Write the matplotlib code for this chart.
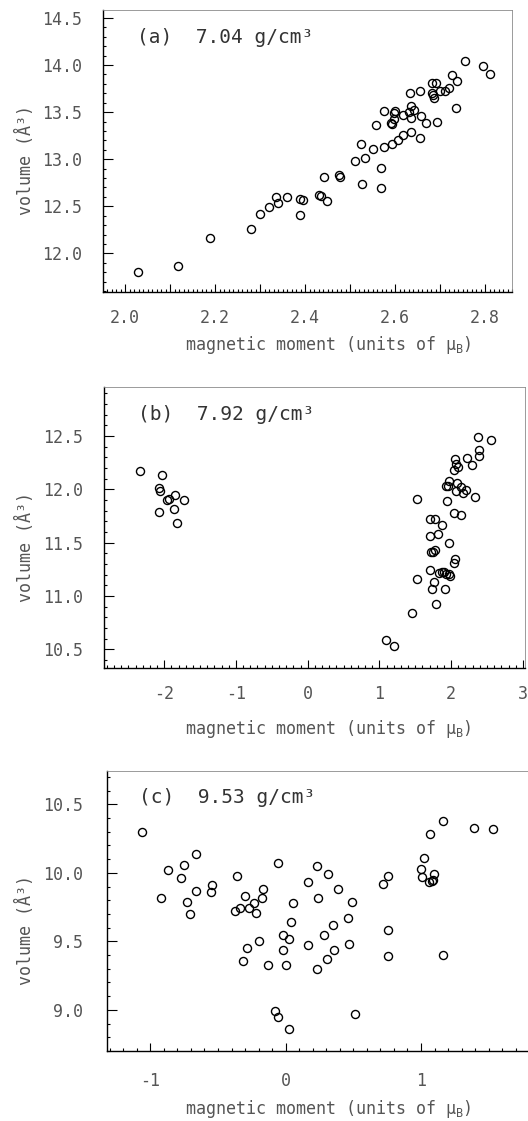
import matplotlib
matplotlib.use("Agg")
import matplotlib.pyplot as plt
from matplotlib.ticker import MultipleLocator, FuncFormatter

plt.rcParams['font.family'] = ['DejaVu Sans Mono', 'DejaVu Sans']
plt.rcParams['axes.unicode_minus'] = False

# (a) 7.04 g/cm3
a_moment = [2.028, 2.118, 2.189, 2.281, 2.301, 2.319, 2.336, 2.341, 2.360, 2.389,
            2.396, 2.389, 2.430, 2.436, 2.448, 2.442, 2.476, 2.478, 2.510, 2.534,
            2.524, 2.527, 2.550, 2.569, 2.569, 2.557, 2.575, 2.576, 2.590, 2.593,
            2.593, 2.598, 2.601, 2.598, 2.606, 2.617, 2.618, 2.633, 2.635, 2.631,
            2.636, 2.643, 2.636, 2.656, 2.658, 2.656, 2.669, 2.682, 2.690, 2.682,
            2.685, 2.687, 2.693, 2.701, 2.710, 2.721, 2.727, 2.738, 2.735, 2.756,
            2.796, 2.811]
a_volume = [11.80, 11.87, 12.16, 12.26, 12.42, 12.49, 12.60, 12.53, 12.60, 12.58,
            12.57, 12.41, 12.62, 12.61, 12.56, 12.81, 12.83, 12.81, 12.98, 13.01,
            13.16, 12.74, 13.11, 12.91, 12.69, 13.36, 13.13, 13.51, 13.39, 13.37,
            13.16, 13.43, 13.51, 13.49, 13.20, 13.26, 13.47, 13.70, 13.57, 13.50,
            13.44, 13.52, 13.29, 13.73, 13.46, 13.23, 13.39, 13.81, 13.81, 13.70,
            13.68, 13.65, 13.40, 13.73, 13.73, 13.76, 13.89, 13.83, 13.54, 14.04,
            13.99, 13.90]

# (b) 7.92 g/cm3
b_moment = [-2.335, -2.034, -2.08, -2.06, -1.963, -1.929, -1.845, -1.718, -2.07, -1.864,
            -1.822,
            2.375, 2.557, 2.389, 2.385, 2.060, 2.218, 2.074, 2.101, 2.292, 2.036,
            1.967, 1.934, 1.957, 2.083, 2.134, 2.213, 2.074, 2.167, 2.334, 1.525,
            1.943, 2.036, 2.143, 1.711, 1.781, 1.869, 1.702, 1.823, 1.971, 1.715,
            1.748, 1.776, 2.050, 2.036, 1.706, 1.530, 1.831, 1.869, 1.897, 1.925,
            1.971, 1.980, 1.757, 1.729, 1.915, 1.789, 1.460, 1.09, 1.21]
b_volume = [12.17, 12.13, 12.01, 11.98, 11.90, 11.91, 11.95, 11.90, 11.79, 11.82,
            11.68,
            12.49, 12.46, 12.37, 12.31, 12.28, 12.29, 12.24, 12.21, 12.23, 12.18,
            12.08, 12.03, 12.03, 12.06, 12.02, 11.99, 11.98, 11.97, 11.93, 11.91,
            11.89, 11.78, 11.76, 11.72, 11.72, 11.67, 11.56, 11.58, 11.50, 11.41,
            11.41, 11.43, 11.35, 11.31, 11.24, 11.16, 11.22, 11.23, 11.23, 11.21,
            11.21, 11.19, 11.13, 11.07, 11.07, 10.93, 10.84, 10.59, 10.53]

# (c) 9.53 g/cm3
c_moment = [-1.063, -0.924, -0.867, -0.770, -0.748, -0.728, -0.706, -0.663, -0.661, -0.547,
            -0.552, -0.360, -0.373, -0.340, -0.301, -0.288, -0.316, -0.268, -0.231, -0.219,
            -0.174, -0.164, -0.194, -0.129, -0.055, 0.052, 0.037, -0.017, 0.025, -0.022,
            0.002, -0.080, -0.060, 0.027, 0.164, 0.166, 0.229, 0.236, 0.229, 0.311,
            0.283, 0.303, 0.348, 0.358, 0.383, 0.460, 0.467, 0.489, 0.514, 0.718,
            0.753, 0.758, 0.758, 1.019, 1.001, 1.009, 1.063, 1.058, 1.086, 1.098,
            1.081, 1.160, 1.163, 1.389, 1.530]
c_volume = [10.30, 9.82, 10.02, 9.96, 10.06, 9.79, 9.70, 9.87, 10.14, 9.91,
            9.86, 9.98, 9.72, 9.74, 9.83, 9.45, 9.36, 9.74, 9.78, 9.71,
            9.82, 9.88, 9.50, 9.33, 10.07, 9.78, 9.64, 9.55, 9.52, 9.44,
            9.33, 8.99, 8.95, 8.86, 9.93, 9.47, 10.05, 9.82, 9.30, 9.99,
            9.55, 9.37, 9.62, 9.44, 9.88, 9.67, 9.48, 9.79, 8.97, 9.92,
            9.98, 9.58, 9.39, 10.11, 10.03, 9.97, 10.28, 9.93, 9.95, 9.99,
            9.94, 10.38, 9.40, 10.33, 10.32]

panel_labels = ["(a)  7.04 g/cm³", "(b)  7.92 g/cm³", "(c)  9.53 g/cm³"]

W, H = 528.0, 1121.0
TXT = "#555555"


def px_axes(fig, left, right, top, bottom):
    return fig.add_axes([left / W, 1 - bottom / H, (right - left) / W, (bottom - top) / H])


def style_axes(ax, xmaj, xmin, ymaj, ymin, xpad, ypad):
    ax.xaxis.set_major_locator(MultipleLocator(xmaj))
    ax.xaxis.set_minor_locator(MultipleLocator(xmin))
    ax.yaxis.set_major_locator(MultipleLocator(ymaj))
    ax.yaxis.set_minor_locator(MultipleLocator(ymin))
    ax.tick_params(which="both", direction="in", top=False, right=False,
                   colors="black", labelcolor=TXT, labelsize=12, width=0.8)
    ax.tick_params(axis="x", which="major", length=6, pad=xpad)
    ax.tick_params(axis="y", which="major", length=7, pad=ypad)
    ax.tick_params(which="minor", length=2.5)
    for side in ["top", "right"]:
        ax.spines[side].set_color("#8a8a8a")
        ax.spines[side].set_linewidth(0.6)
    for side in ["left", "bottom"]:
        ax.spines[side].set_linewidth(1.0)


def scatter(ax, x, y):
    ax.plot(x, y, linestyle="none", marker="o", markersize=5.8,
            markerfacecolor="none", markeredgecolor="black", markeredgewidth=1.0)


fig = plt.figure(figsize=(W / 100, H / 100), dpi=100)

# panel a
ax1 = px_axes(fig, 103, 512, 10, 292)
scatter(ax1, a_moment, a_volume)
ax1.set_xlim(1.951, 2.860)
ax1.set_ylim(11.59, 14.585)
style_axes(ax1, 0.1, 0.01, 0.5, 0.1, 12, 15)
ax1.xaxis.set_major_formatter(FuncFormatter(
    lambda v, p: "%.1f" % v if round(v * 10) % 2 == 0 else ""))
ax1.yaxis.set_major_formatter(FuncFormatter(lambda v, p: "%.1f" % v))
ax1.tick_params(axis="x", which="minor", length=2)

# panel b
ax2 = px_axes(fig, 104, 525, 387, 668)
scatter(ax2, b_moment, b_volume)
ax2.set_xlim(-2.84, 3.03)
ax2.set_ylim(10.326, 12.959)
style_axes(ax2, 1, 0.1, 0.5, 0.1, 12, 15)
ax2.yaxis.set_major_formatter(FuncFormatter(lambda v, p: "%.1f" % v))

# panel c
ax3 = px_axes(fig, 107, 532, 771, 1051)
scatter(ax3, c_moment, c_volume)
ax3.set_xlim(-1.32, 1.82)
ax3.set_ylim(8.70, 10.743)
style_axes(ax3, 1, 0.1, 0.5, 0.1, 15, 17)
ax3.yaxis.set_major_formatter(FuncFormatter(lambda v, p: "%.1f" % v))

for ax, lab, xy in zip([ax1, ax2, ax3], panel_labels,
                       [(0.083, 0.883), (0.081, 0.883), (0.075, 0.886)]):
    ax.text(xy[0], xy[1], lab, transform=ax.transAxes, fontsize=14,
            color="#333333", va="baseline", ha="left")

# axis titles, placed like the scanned page
for ycen in [160, 547, 930]:
    fig.text(25 / W, 1 - ycen / H, "volume (Å³)", rotation=90, fontsize=12,
             color=TXT, ha="center", va="center")
for ycen in [345, 729, 1109]:
    fig.text(328 / W, 1 - ycen / H, "magnetic moment (units of $\\mathregular{\\mu_B}$)",
             fontsize=12, color=TXT, ha="center", va="center")

fig.savefig("out.png", dpi=100)
